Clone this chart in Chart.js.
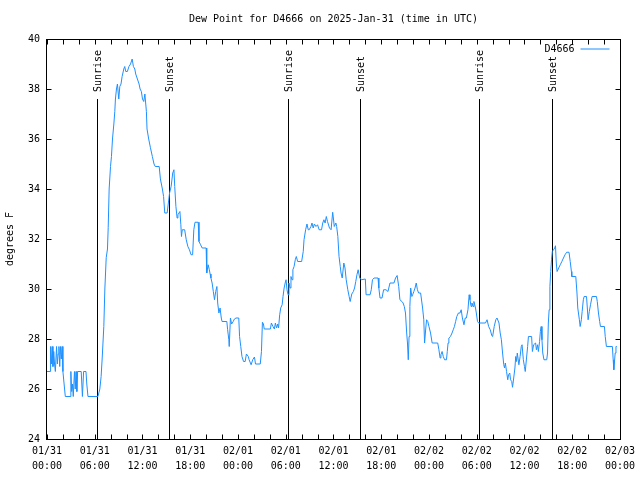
<!DOCTYPE html>
<html>
<head>
<meta charset="utf-8">
<title>Dew Point for D4666</title>
<script src="https://cdn.jsdelivr.net/npm/chart.js@4/dist/chart.umd.min.js"></script>
<style>
  html, body { margin: 0; padding: 0; background: #fff; }
</style>
</head>
<body>
<canvas id="dewChart" width="640" height="480"></canvas>
<script>
const chartTitle = 'Dew Point for D4666 on 2025-Jan-31 (time in UTC)';
const stationName = 'D4666';
const yAxisLabel = 'degrees F';
const dayLabels = ['01/31', '02/01', '02/02', '02/03'];

// hours since 01/31 00:00 UTC
const hoursSinceStart = [
    0, 0.4, 0.45, 0.55, 0.65, 0.75, 0.85, 0.95, 1.05, 1.2,
    1.3, 1.4, 1.5, 1.6, 1.7, 1.8, 1.9, 2.0, 2.15, 2.3,
    2.9, 3.0, 3.1, 3.2, 3.3, 3.45, 3.55, 3.65, 3.75, 3.85,
    4.3, 4.45, 4.6, 4.9, 5.0, 5.15, 6.4, 6.64, 6.8, 6.93,
    7.14, 7.27, 7.44, 7.6, 7.69, 7.81, 7.98, 8.1, 8.23, 8.4,
    8.52, 8.6, 8.73, 8.85, 9.02, 9.15, 9.3, 9.44, 9.65, 9.77,
    9.9, 10.1, 10.3, 10.5, 10.7, 10.86, 11.03, 11.15, 11.36, 11.57,
    11.7, 11.86, 12.0, 12.16, 12.3, 12.49, 12.57, 12.78, 13.0, 13.24,
    13.45, 13.6, 14.1, 14.25, 14.5, 14.65, 14.8, 15.1, 15.25, 15.4,
    15.6, 15.8, 15.95, 16.05, 16.2, 16.35, 16.45, 16.7, 16.82, 16.9,
    17.0, 17.3, 17.5, 17.7, 17.9, 18.1, 18.3, 18.45, 18.6, 19.0,
    19.1, 19.3, 19.5, 20.0, 20.05, 20.1, 20.25, 20.4, 20.5, 20.6,
    20.75, 20.9, 21.05, 21.2, 21.35, 21.45, 21.6, 21.75, 21.9, 22.0,
    22.6, 22.7, 22.85, 22.9, 23.05, 23.2, 23.4, 23.55, 23.75, 24.1,
    24.2, 24.35, 24.5, 24.7, 24.9, 25.06, 25.3, 25.4, 25.65, 25.85,
    26.07, 26.2, 26.8, 26.95, 27.07, 27.2, 27.3, 28.07, 28.2, 28.4,
    28.57, 28.7, 28.85, 28.99, 29.1, 29.24, 29.37, 29.55, 29.66, 29.8,
    29.93, 30.04, 30.16, 30.29, 30.41, 30.54, 30.66, 30.79, 30.9, 31.05,
    31.2, 31.33, 31.5, 32.0, 32.2, 32.3, 32.5, 32.67, 32.83, 32.95,
    33.17, 33.3, 33.45, 33.6, 33.8, 34.0, 34.2, 34.5, 34.65, 34.8,
    34.95, 35.1, 35.25, 35.5, 35.7, 35.9, 36.0, 36.1, 36.3, 36.4,
    36.55, 36.7, 36.85, 36.95, 37.1, 37.3, 37.45, 37.6, 37.8, 37.97,
    38.1, 38.3, 38.5, 38.65, 38.8, 38.95, 39.1, 39.3, 39.5, 40.0,
    40.1, 40.6, 40.75, 40.9, 41.1, 41.6, 41.7, 41.85, 42.1, 42.3,
    42.6, 42.85, 43.1, 43.6, 43.8, 44.0, 44.1, 44.2, 44.35, 44.6,
    44.75, 44.9, 45.05, 45.2, 45.3, 45.4, 45.5, 45.6, 45.7, 45.85,
    45.95, 46.1, 46.25, 46.4, 46.55, 46.7, 46.95, 47.2, 47.35, 47.45,
    47.6, 47.7, 47.85, 48.0, 48.2, 48.4, 49.1, 49.25, 49.4, 49.5,
    49.65, 49.8, 49.96, 50.2, 50.3, 50.4, 50.5, 50.7, 50.9, 51.05,
    51.2, 51.35, 51.5, 51.7, 51.9, 52.05, 52.2, 52.4, 52.55, 52.7,
    52.9, 53.05, 53.15, 53.3, 53.4, 53.55, 53.65, 53.85, 53.95, 54.1,
    54.25, 55.1, 55.3, 55.5, 55.7, 55.9, 56.0, 56.2, 56.4, 56.55,
    56.8, 56.95, 57.1, 57.25, 57.4, 57.5, 57.6, 57.75, 57.9, 58.0,
    58.15, 58.25, 58.4, 58.5, 58.65, 58.8, 58.9, 59.0, 59.1, 59.3,
    59.45, 59.6, 59.7, 59.86, 60.0, 60.1, 60.2, 60.4, 60.5, 60.9,
    61.0, 61.15, 61.4, 61.5, 61.65, 61.75, 61.9, 62.0, 62.1, 62.2,
    62.3, 62.45, 62.8, 62.9, 63.0, 63.1, 63.2, 63.3, 63.4, 63.5,
    63.65, 63.8, 63.9, 64.0, 64.1, 64.3, 64.5, 64.7, 64.9, 65.1,
    65.3, 65.6, 65.75, 65.9, 65.95, 66.45, 66.6, 66.7, 66.9, 67.0,
    67.15, 67.25, 67.4, 67.5, 67.8, 67.9, 68.0, 68.15, 68.3, 68.5,
    69.05, 69.15, 69.3, 69.45, 69.55, 70.05, 70.15, 70.3, 71.05, 71.15,
    71.23, 71.3, 71.4, 71.5, 71.6
];

const dewPointF = [
    26.7, 26.7, 27.7, 27.0, 27.7, 26.9, 27.5, 27.0, 26.7, 27.7,
    27.0, 27.4, 27.7, 26.9, 27.7, 27.2, 27.7, 26.7, 26.2, 25.7,
    25.7, 26.7, 25.9, 26.2, 25.7, 26.7, 26.0, 26.7, 25.9, 26.7,
    26.7, 25.7, 26.7, 26.7, 26.2, 25.7, 25.7, 26.0, 26.5, 27.2,
    28.5, 30.0, 31.25, 31.6, 32.45, 34.0, 34.9, 35.3, 36.0, 36.6,
    37.1, 37.6, 38.0, 38.2, 37.6, 38.1, 38.2, 38.5, 38.8, 38.9,
    38.7, 38.7, 38.9, 39.0, 39.2, 38.9, 38.8, 38.6, 38.4, 38.2,
    38.0, 37.9, 37.6, 37.5, 37.8, 37.1, 36.4, 36.0, 35.65, 35.3,
    35.0, 34.9, 34.9, 34.4, 34.0, 33.7, 33.04, 33.04, 33.44, 33.84,
    34.1, 34.64, 34.77, 34.1, 33.3, 32.84, 32.97, 33.1, 32.57, 32.1,
    32.37, 32.37, 31.97, 31.7, 31.57, 31.37, 31.37, 32.37, 32.67, 32.67,
    31.9, 31.77, 31.64, 31.64, 31.17, 30.64, 30.97, 30.77, 30.6, 30.44,
    30.24, 29.9, 29.57, 29.9, 30.1, 29.44, 29.04, 29.24, 28.84, 28.7,
    28.7, 28.37, 27.97, 27.7, 28.84, 28.6, 28.7, 28.8, 28.84, 28.84,
    28.1, 27.7, 27.3, 27.1, 27.1, 27.4, 27.3, 27.17, 26.97, 27.17,
    27.28, 27.0, 27.0, 27.5, 28.67, 28.6, 28.4, 28.4, 28.64, 28.5,
    28.4, 28.64, 28.44, 28.6, 28.44, 28.97, 29.24, 29.37, 29.7, 30.04,
    30.24, 30.37, 29.97, 29.77, 30.24, 30.04, 30.5, 30.37, 30.77, 30.9,
    31.17, 31.3, 31.1, 31.1, 31.5, 31.97, 32.37, 32.6, 32.37, 32.37,
    32.5, 32.64, 32.44, 32.6, 32.5, 32.57, 32.37, 32.37, 32.64, 32.77,
    32.64, 32.9, 32.7, 32.44, 32.37, 33.07, 32.8, 32.5, 32.64, 32.5,
    32.1, 31.3, 30.9, 30.64, 30.44, 31.04, 30.84, 30.37, 29.97, 29.7,
    29.5, 29.8, 29.9, 30.04, 30.3, 30.57, 30.77, 30.44, 30.37, 30.4,
    29.77, 29.77, 29.97, 30.37, 30.44, 30.44, 30.04, 29.64, 29.64, 29.97,
    29.97, 29.9, 30.24, 30.24, 30.44, 30.54, 30.54, 30.1, 29.57, 29.5,
    29.44, 29.3, 29.04, 28.24, 27.84, 27.17, 28.1, 29.3, 30.04, 29.7,
    29.77, 29.9, 30.04, 30.24, 29.97, 29.84, 29.84, 29.24, 28.77, 27.84,
    28.44, 28.77, 28.7, 28.5, 28.24, 27.84, 27.84, 27.57, 27.24, 27.37,
    27.5, 27.3, 27.17, 27.17, 27.5, 27.84, 28.04, 28.1, 28.24, 28.37,
    28.5, 28.7, 28.9, 29.04, 29.04, 29.17, 28.84, 28.57, 28.84, 28.84,
    29.17, 29.77, 29.57, 29.3, 29.44, 29.3, 29.5, 29.24, 29.04, 28.7,
    28.64, 28.64, 28.77, 28.5, 28.37, 28.13, 28.1, 28.5, 28.77, 28.84,
    28.64, 28.24, 27.97, 27.44, 26.97, 26.84, 27.04, 26.7, 26.37, 26.57,
    26.64, 26.37, 26.3, 26.07, 26.44, 26.84, 27.3, 27.1, 27.44, 26.97,
    27.3, 27.7, 27.77, 27.17, 26.9, 26.7, 27.04, 27.7, 28.1, 28.1,
    27.5, 27.77, 27.84, 27.57, 27.77, 27.5, 27.9, 28.3, 28.5, 27.97,
    27.44, 27.17, 27.17, 27.44, 28.64, 29.17, 30.1, 30.7, 31.17, 31.5,
    31.57, 31.64, 31.73, 31.04, 30.7, 30.84, 30.97, 31.1, 31.24, 31.37,
    31.47, 31.47, 31.1, 30.7, 30.5, 30.5, 29.84, 29.24, 28.77, 28.5,
    28.77, 29.1, 29.57, 29.7, 29.7, 29.24, 28.77, 29.1, 29.37, 29.7,
    29.7, 29.5, 29.04, 28.7, 28.5, 28.5, 28.1, 27.7, 27.7, 27.17,
    26.77, 27.04, 27.44, 27.7, 27.7
];

const sunEventHours = [6.3, 15.33, 30.24, 39.39, 54.3, 63.45];
const sunEventNames = ['Sunrise', 'Sunset', 'Sunrise', 'Sunset', 'Sunrise', 'Sunset'];

const monoFont = "'DejaVu Sans Mono', 'Liberation Mono', monospace";
const lineColor = '#1e90ff';

function pad2(n) {
    return String(n).padStart(2, '0');
}

// gnuplot look: frame, inward ticks on all sides, sun lines, legend inside
const gnuplotDecor = {
    id: 'gnuplotDecor',
    beforeDatasetsDraw(chart) {
        const ctx = chart.ctx;
        const xs = chart.scales.x;
        const a = chart.chartArea;
        ctx.save();
        ctx.strokeStyle = '#000';
        ctx.lineWidth = 1;
        ctx.fillStyle = '#000';
        ctx.font = '10px ' + monoFont;
        sunEventHours.forEach((h, i) => {
            const px = Math.round(xs.getPixelForValue(h)) + 0.5;
            ctx.beginPath();
            ctx.moveTo(px, a.top + 60);
            ctx.lineTo(px, a.bottom);
            ctx.stroke();
            ctx.save();
            ctx.translate(px + 1, a.top + 53);
            ctx.rotate(-Math.PI / 2);
            ctx.textAlign = 'left';
            ctx.textBaseline = 'middle';
            ctx.fillText(sunEventNames[i], 0, 0);
            ctx.restore();
        });
        ctx.restore();
    },
    afterDatasetsDraw(chart) {
        const ctx = chart.ctx;
        const xs = chart.scales.x;
        const ys = chart.scales.y;
        const a = chart.chartArea;
        const tick = 5;
        ctx.save();
        ctx.strokeStyle = '#000';
        ctx.lineWidth = 1;

        const L = Math.round(a.left) - 0.5;
        const R = Math.round(a.right) + 0.5;
        const T = Math.round(a.top) + 0.5;
        const B = Math.round(a.bottom) + 0.5;
        ctx.strokeRect(L, T, R - L, B - T);

        ctx.beginPath();
        for (let h = xs.min; h <= xs.max; h += 2) {
            const px = Math.round(xs.getPixelForValue(h)) + 0.5;
            ctx.moveTo(px, B);
            ctx.lineTo(px, B - tick);
            ctx.moveTo(px, T);
            ctx.lineTo(px, T + tick);
        }
        ys.ticks.forEach(t => {
            const py = Math.round(ys.getPixelForValue(t.value)) + 0.5;
            ctx.moveTo(L, py);
            ctx.lineTo(L + tick, py);
            ctx.moveTo(R, py);
            ctx.lineTo(R - tick, py);
        });
        ctx.stroke();

        // legend
        const ds = chart.data.datasets[0];
        const ly = T + 9.5;
        ctx.font = '10px ' + monoFont;
        ctx.fillStyle = '#000';
        ctx.textAlign = 'right';
        ctx.textBaseline = 'middle';
        ctx.fillText(ds.label, R - 46, ly);
        ctx.strokeStyle = ds.borderColor;
        ctx.beginPath();
        ctx.moveTo(R - 40, ly);
        ctx.lineTo(R - 11, ly);
        ctx.stroke();
        ctx.restore();
    }
};

new Chart(document.getElementById('dewChart'), {
    type: 'line',
    data: {
        datasets: [{
            label: stationName,
            data: hoursSinceStart.map((h, i) => ({ x: h, y: dewPointF[i] })),
            borderColor: lineColor,
            backgroundColor: lineColor,
            borderWidth: 1,
            pointRadius: 0,
            tension: 0,
            fill: false
        }]
    },
    options: {
        responsive: false,
        animation: false,
        devicePixelRatio: 1,
        layout: { padding: { left: 0, right: 19, top: 0, bottom: 0 } },
        plugins: {
            legend: { display: false },
            tooltip: { enabled: false },
            title: {
                display: true,
                text: chartTitle,
                fullSize: false,
                color: '#000',
                font: { family: monoFont, size: 10, weight: 'normal', lineHeight: 1.2 },
                padding: { top: 13, bottom: 14 }
            }
        },
        scales: {
            x: {
                type: 'linear',
                min: 0,
                max: 72,
                grid: { display: false, drawTicks: false },
                border: { display: false },
                ticks: {
                    stepSize: 6,
                    autoSkip: false,
                    maxRotation: 0,
                    padding: 5,
                    color: '#000',
                    font: { family: monoFont, size: 10, lineHeight: 1.5 },
                    callback: v => [dayLabels[Math.floor(v / 24)], pad2(v % 24) + ':00']
                },
                afterFit(scale) { scale.height = 41; }
            },
            y: {
                min: 24,
                max: 40,
                grid: { display: false, drawTicks: false },
                border: { display: false },
                ticks: {
                    stepSize: 2,
                    padding: 7,
                    color: '#000',
                    font: { family: monoFont, size: 10 }
                },
                title: {
                    display: true,
                    text: yAxisLabel,
                    color: '#000',
                    font: { family: monoFont, size: 10, lineHeight: 1.2 },
                    padding: { top: 4, bottom: 0 }
                },
                afterFit(scale) { scale.width = 47; }
            }
        }
    },
    plugins: [gnuplotDecor]
});
</script>
</body>
</html>
